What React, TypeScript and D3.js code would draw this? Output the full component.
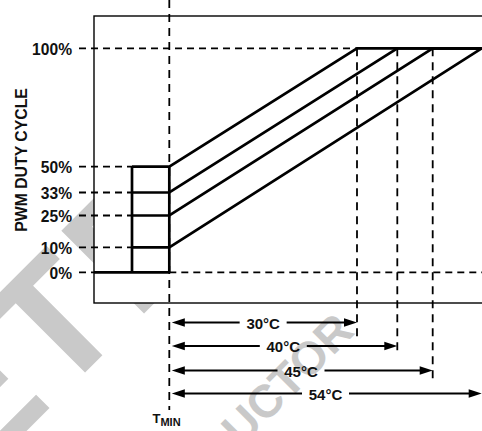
import React from "react";
import * as d3 from "d3";

// Y axis: duty-cycle tick labels (percent)
const DUTY_TICKS = [0, 10, 25, 33, 50, 100];
// Starting duty cycle at TMIN for each line
const START_DUTY = [50, 33, 25, 10];
// Temperature range (°C above TMIN) to reach 100% for each line
const RANGE_C = [30, 40, 45, 54];
// Temperature breakpoints of the schematic x axis (°C relative to TMIN)
const TEMP_BREAKS = [-12, -6, 0, 30, 40, 45, 54];

const W = 482;
const H = 431;
const FONT = "'Liberation Sans', Arial, Helvetica, sans-serif";

export default function App() {
  // schematic (piecewise) scales
  const y = d3
    .scaleLinear()
    .domain(DUTY_TICKS)
    .range([272.3, 247.3, 215.5, 192.5, 166.7, 48.3]);
  const x = d3
    .scaleLinear()
    .domain(TEMP_BREAKS)
    .range([94, 132, 169.3, 357, 397.3, 432.7, 481.7]);

  const frameLeft = x(-12);
  const frameTop = 16;
  const frameBottom = 303;
  const stepLeft = x(-6);
  const tmin = x(0);
  const labelRight = 72;
  const dashStart = 79;
  const arrowRows = [322.5, 346, 370.5, 393.5];
  const vDashEnds = [337, 352, 379];

  const dashH = "7 5";
  const dashV = "8 6";
  const thick = 2.7;

  const line = d3
    .line<[number, number]>()
    .x((d) => x(d[0]))
    .y((d) => y(d[1]));

  const arrowHead = (tipX: number, yy: number, dir: number) => {
    const len = 13;
    const hw = 4.3;
    return `${tipX},${yy} ${tipX - dir * len},${yy - hw} ${tipX - dir * len},${yy + hw}`;
  };

  return (
    <svg
      width={W}
      height={H}
      style={{ position: "absolute", left: 0, top: 0, background: "#fff" }}
      fontFamily={FONT}
    >
      {/* watermark */}
      <g fill="#c9c9c9" fontWeight="bold">
        <g transform="translate(57,400.6) rotate(-45)">
          <text fontSize={170} textAnchor="end" x={-4}>
            OBSOLE
          </text>
          <text fontSize={170} letterSpacing={8}>
            TE
          </text>
        </g>
        <text
          transform="translate(356,333) rotate(-45)"
          fontSize={46}
          textAnchor="end"
        >
          SEMICONDUCTOR
        </text>
      </g>

      {/* frame */}
      <rect
        x={frameLeft}
        y={frameTop}
        width={W + 10 - frameLeft}
        height={frameBottom - frameTop}
        fill="#fff"
        stroke="#000"
        strokeWidth={1.4}
      />

      {/* dashed guide lines from labels */}
      <g stroke="#000" strokeWidth={1.8} strokeDasharray={dashH} fill="none">
        {DUTY_TICKS.map((d) => {
          let x2 = stepLeft;
          if (d === 100) x2 = x(RANGE_C[0]);
          if (d === 0) x2 = frameLeft;
          return <line key={d} x1={dashStart} x2={x2} y1={y(d)} y2={y(d)} />;
        })}
        <line x1={tmin} x2={W} y1={y(0)} y2={y(0)} />
      </g>

      {/* vertical dashed lines */}
      <g stroke="#000" strokeWidth={1.8} strokeDasharray={dashV} fill="none">
        <line x1={tmin} x2={tmin} y1={0} y2={410} />
        {RANGE_C.slice(0, 3).map((r, i) => (
          <line key={r} x1={x(r)} x2={x(r)} y1={y(100)} y2={vDashEnds[i]} />
        ))}
      </g>

      {/* data lines */}
      <g stroke="#000" strokeWidth={thick} fill="none" strokeLinejoin="miter">
        <path d={line([[-12, 0], [0, 0]]) || ""} />
        <path d={line([[-6, 0], [-6, 50]]) || ""} />
        <path d={line([[0, 0], [0, 50]]) || ""} />
        {START_DUTY.map((s, i) => (
          <path
            key={s}
            d={line([[-6, s], [0, s], [RANGE_C[i], 100], [54, 100]]) || ""}
          />
        ))}
      </g>

      {/* y tick labels */}
      <g fontSize={15.6} fontWeight="bold" fill="#111" textAnchor="end">
        {DUTY_TICKS.map((d) => (
          <text key={d} x={labelRight} y={y(d) + 6.5}>
            {d}%
          </text>
        ))}
      </g>

      {/* y axis title */}
      <text
        transform="translate(26.5,160) rotate(-90)"
        textAnchor="middle"
        fontSize={15.8}
        fontWeight="bold"
        fill="#111"
      >
        PWM DUTY CYCLE
      </text>

      {/* temperature range arrows */}
      {RANGE_C.map((r, i) => {
        const yy = arrowRows[i];
        const x1 = tmin + 2.5;
        const x2 = x(r);
        const cx = (tmin + x2) / 2;
        const label = `${r}°C`;
        const halfText = 17.5;
        const pad = 6;
        return (
          <g key={r}>
            <line x1={x1 + 10} x2={cx - halfText - pad} y1={yy} y2={yy} stroke="#000" strokeWidth={2} />
            <line x1={cx + halfText + pad} x2={x2 - 10} y1={yy} y2={yy} stroke="#000" strokeWidth={2} />
            <polygon points={arrowHead(x1, yy, -1)} fill="#000" />
            <polygon points={arrowHead(x2, yy, 1)} fill="#000" />
            <text
              x={cx}
              y={yy + 6}
              textAnchor="middle"
              fontSize={15}
              fontWeight="bold"
              fill="#111"
            >
              {label}
            </text>
          </g>
        );
      })}

      {/* TMIN label */}
      <text x={152.5} y={423} fontWeight="bold" fill="#111" fontSize={13}>
        T
        <tspan fontSize={11} dy={2.5}>
          MIN
        </tspan>
      </text>
    </svg>
  );
}
